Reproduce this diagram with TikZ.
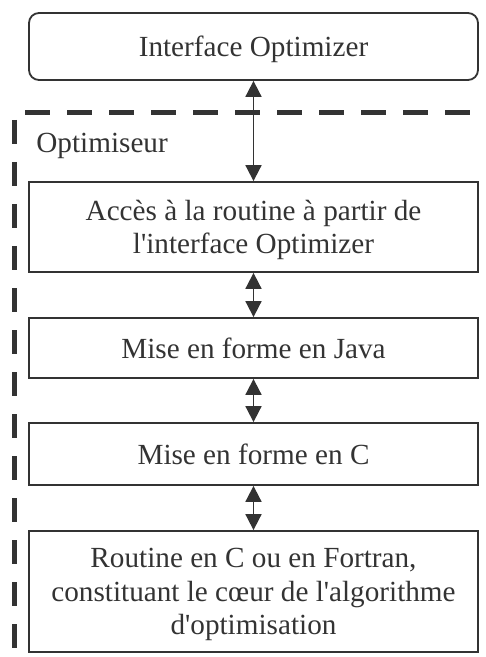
\documentclass[tikz,border=0pt]{standalone}
\usepackage{fontspec}
\setmainfont{Liberation Serif}
\usetikzlibrary{arrows.meta}
\definecolor{ink}{HTML}{333333}
\begin{document}
\begin{tikzpicture}[x=0.5pt, y=-0.5pt, >={Triangle[width=8pt,length=8pt]},
    box/.style={draw=ink, line width=0.9pt, text=ink, minimum width=224.5pt, inner sep=0pt, text depth=0pt, align=center, font=\fontsize{14.6pt}{16.75pt}\selectfont},
    frame/.style={draw=ink, line width=2.5pt}]
  \useasboundingbox (0,0) rectangle (486,657);
  % optimiseur frame (top and left side only)
  \coordinate (ftl) at (25,112.5);  \coordinate (ftr) at (470,112.5);
  \coordinate (flt) at (14,120);    \coordinate (flb) at (14,649);
  \draw[frame, dash pattern=on 12.5pt off 8.5pt] (ftl) -- (ftr);
  \draw[frame, dash pattern=on 12pt off 9pt] (flt) -- (flb);
  \node[anchor=base west, inner sep=0pt, text=ink, font=\fontsize{14.6pt}{16.75pt}\selectfont] (optlabel) at (36,153) {Optimiseur};
  % boxes
  \node[box, rounded corners=5pt, minimum height=33.5pt] (iface) at (253.5,46.5) {Interface Optimizer};
  \node[box, minimum height=45pt] (acces) at (253.5,227) {Accès à la routine à partir de\\l\textquotesingle interface Optimizer};
  \node[box, minimum height=30pt] (java) at (253.5,348) {Mise en forme en Java};
  \node[box, minimum height=31pt] (formc) at (253.5,454) {Mise en forme en C};
  \node[box, minimum height=60.5pt] (routine) at (253.5,591.5) {Routine en C ou en Fortran,\\constituant le c\oe ur de l\textquotesingle algorithme\\d\textquotesingle optimisation};
  % links
  \foreach \a/\b in {iface/acces, acces/java, java/formc, formc/routine}
    \draw[<->, draw=ink, fill=ink, line width=0.9pt] (\a) -- (\b);
\end{tikzpicture}
\end{document}
